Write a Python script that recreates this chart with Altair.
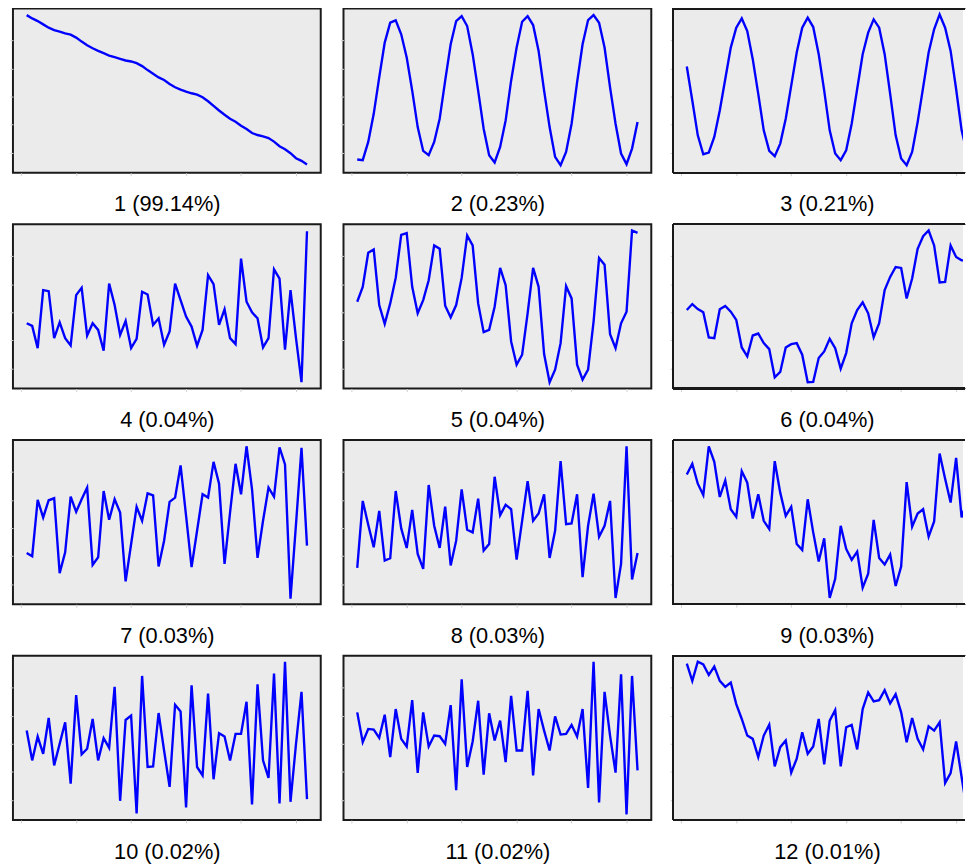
import altair as alt
import pandas as pd

idx = list(range(1, 53))

labels = ["1 (99.14%)", "2 (0.23%)", "3 (0.21%)",
          "4 (0.04%)", "5 (0.04%)", "6 (0.04%)",
          "7 (0.03%)", "8 (0.03%)", "9 (0.03%)",
          "10 (0.02%)", "11 (0.02%)", "12 (0.01%)"]

s1 = [476, 466, 458, 448, 438, 431, 426, 421, 417, 408, 396, 385, 376, 368, 361, 354, 349, 344, 339, 336,
      331, 322, 310, 299, 288, 280, 268, 258, 251, 245, 240, 236, 228, 216, 202, 188, 175, 163, 154, 142,
      132, 120, 114, 110, 105, 94, 80, 71, 59, 44, 36, 25]
s2 = [40, 38, 93, 178, 288, 393, 453, 460, 418, 348, 248, 138, 66, 53, 93, 163, 278, 388, 458, 473,
      443, 358, 248, 133, 53, 31, 78, 158, 278, 378, 456, 473, 446, 368, 248, 138, 48, 23, 63, 148,
      273, 388, 461, 476, 453, 378, 258, 148, 58, 26, 73, 153]
s3 = [321, 218, 113, 56, 61, 108, 188, 283, 378, 438, 466, 428, 343, 238, 128, 66, 50, 88, 163, 263,
      363, 438, 468, 440, 358, 248, 128, 58, 38, 68, 148, 253, 358, 423, 463, 438, 358, 238, 113, 43,
      23, 63, 153, 258, 363, 433, 478, 438, 368, 253, 128, 58]
s4 = [197, 189, 122, 297, 294, 152, 200, 152, 130, 282, 304, 160, 197, 177, 114, 317, 252, 162, 204, 122,
      150, 292, 284, 192, 212, 132, 172, 317, 267, 217, 187, 129, 177, 342, 315, 192, 239, 152, 134, 392,
      262, 230, 212, 124, 152, 360, 332, 117, 297, 152, 19, 475]
s5 = [262, 307, 410, 420, 252, 195, 257, 334, 464, 469, 307, 227, 267, 327, 432, 422, 250, 215, 252, 334,
      462, 432, 257, 170, 177, 247, 364, 312, 142, 72, 102, 227, 364, 307, 104, 19, 57, 137, 309, 272,
      72, 27, 57, 202, 394, 374, 164, 122, 197, 232, 477, 470]
s6 = [237, 255, 240, 230, 154, 152, 239, 249, 232, 207, 124, 97, 160, 166, 137, 119, 34, 50, 124, 134,
      137, 102, 19, 20, 92, 112, 150, 122, 60, 107, 197, 237, 260, 227, 155, 197, 297, 337, 367, 364,
      272, 332, 422, 460, 477, 432, 320, 322, 432, 397, 387, 387]
s7 = [155, 145, 315, 262, 314, 320, 94, 157, 325, 279, 317, 352, 119, 142, 342, 255, 317, 277, 69, 182,
      294, 252, 335, 329, 114, 192, 309, 322, 419, 267, 112, 222, 332, 322, 430, 364, 122, 277, 424, 332,
      477, 347, 140, 252, 352, 325, 474, 422, 17, 242, 472, 177]
s8 = [110, 312, 240, 172, 282, 132, 139, 342, 229, 170, 285, 152, 107, 360, 237, 170, 295, 117, 192, 347,
      225, 217, 319, 162, 182, 385, 269, 300, 287, 135, 252, 372, 252, 274, 332, 140, 222, 432, 242, 244,
      332, 82, 237, 334, 204, 237, 312, 19, 122, 477, 75, 155]
s9 = [392, 424, 364, 330, 477, 430, 324, 374, 287, 264, 402, 367, 259, 332, 252, 227, 432, 337, 267, 294,
      182, 164, 317, 217, 129, 199, 19, 77, 237, 167, 134, 159, 50, 92, 255, 140, 120, 150, 55, 114,
      369, 234, 274, 287, 204, 250, 455, 379, 307, 442, 262, 312]
s10 = [270, 180, 252, 200, 308, 165, 230, 295, 110, 377, 198, 215, 305, 180, 247, 218, 402, 58, 302, 315,
       20, 435, 160, 162, 323, 210, 100, 348, 328, 38, 407, 160, 135, 382, 123, 262, 252, 180, 260, 260,
       357, 47, 410, 180, 127, 442, 50, 478, 55, 230, 387, 63]
s11 = [325, 235, 275, 273, 248, 318, 190, 335, 245, 222, 362, 142, 325, 222, 255, 253, 230, 347, 90, 425,
       160, 237, 360, 137, 322, 240, 300, 175, 375, 210, 210, 390, 135, 335, 270, 210, 313, 258, 260, 287,
       252, 335, 97, 478, 53, 387, 255, 143, 440, 17, 435, 150]
s12 = [472, 420, 478, 470, 438, 463, 420, 402, 415, 350, 305, 255, 245, 190, 255, 288, 162, 220, 240, 143,
       185, 265, 200, 222, 305, 168, 300, 332, 162, 280, 287, 213, 335, 385, 358, 362, 392, 352, 380, 325,
       235, 308, 245, 213, 283, 270, 295, 112, 142, 237, 130, 23]

series = [s1, s2, s3, s4, s5, s6, s7, s8, s9, s10, s11, s12]

x_ticks = [0, 10, 20, 30, 40, 50]
y_ticks = [60, 145, 230, 315, 400]

FONT = "Liberation Sans"
PX_PER_UNIT = 311 / 56.0
W_FULL = 311
W_CUT = 293   # third column is cut by the page edge
H = 166
BORDER = "#1a1a1a"
FILL = "#ebebeb"


def panel(vals, label, cut):
    df = pd.DataFrame({"i": idx, "v": vals})
    w = W_CUT if cut else W_FULL
    xmax = -1.5 + w / PX_PER_UNIT
    line = alt.Chart(df).mark_line(color="#0000ff", strokeWidth=2.4, clip=True).encode(
        x=alt.X("i:Q",
                scale=alt.Scale(domain=[-1.5, xmax], nice=False, zero=False),
                axis=alt.Axis(title=label, labels=False, domain=False, grid=False,
                              values=x_ticks, tickColor="#cfcfcf", tickSize=3,
                              titleFontSize=22, titleFont=FONT, titleFontWeight="normal",
                              titleColor="black", titlePadding=18,
                              titleX=W_FULL / 2 if cut else w / 2)),
        y=alt.Y("v:Q",
                scale=alt.Scale(domain=[0, 496], nice=False, zero=False),
                axis=alt.Axis(title=None, labels=False, domain=False, grid=False,
                              values=y_ticks, tickColor="#cfcfcf", tickSize=3)),
    )
    if not cut:
        return line.properties(width=w, height=H,
                               view=alt.ViewBackground(fill=FILL, stroke=BORDER, strokeWidth=2))
    # open frame on the right: the page edge cuts the panel
    frame_top = alt.Chart(df).mark_rule(color=BORDER, strokeWidth=1.5).encode(
        x=alt.value(0), x2=alt.value(w + 2), y=alt.value(0))
    frame_bot = alt.Chart(df).mark_rule(color=BORDER, strokeWidth=1.5).encode(
        x=alt.value(0), x2=alt.value(w + 2), y=alt.value(H))
    frame_left = alt.Chart(df).mark_rule(color=BORDER, strokeWidth=1.5).encode(
        x=alt.value(0), y=alt.value(0), y2=alt.value(H))
    return alt.layer(line, frame_top, frame_bot, frame_left).properties(
        width=w, height=H, view=alt.ViewBackground(fill=FILL, stroke=None))


panels = [panel(v, l, k % 3 == 2) for k, (v, l) in enumerate(zip(series, labels))]
rows = [alt.hconcat(*panels[r * 3:(r + 1) * 3], spacing=17) for r in range(4)]

chart = alt.vconcat(*rows, spacing=7).properties(
    padding={"left": 0, "top": -5, "right": 0, "bottom": 0}
)

chart.save("out.html", embed_options={"renderer": "svg", "actions": False})
